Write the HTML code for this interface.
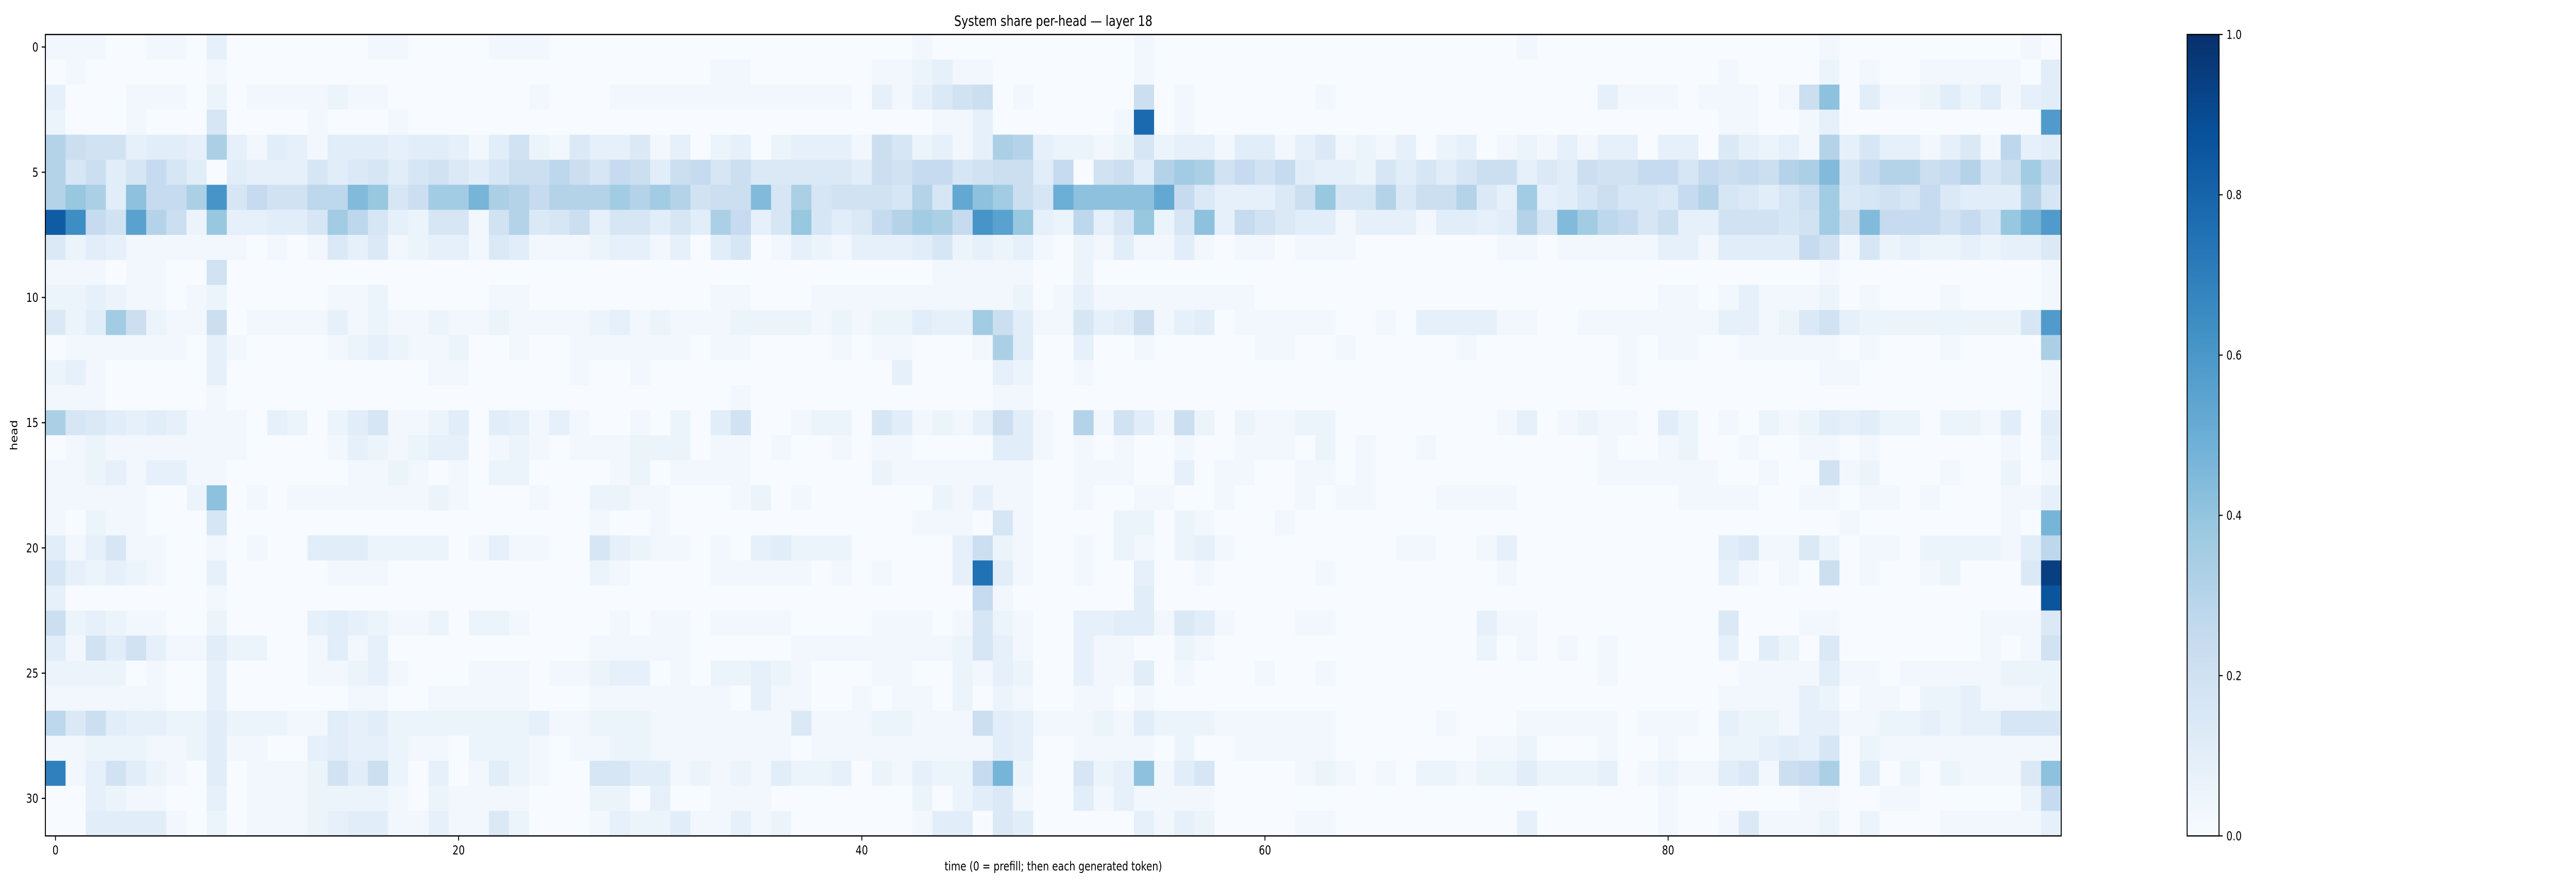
<!DOCTYPE html>
<html><head><meta charset="utf-8"><style>
html,body{margin:0;padding:0;background:#fff;width:100%;height:100%;overflow:hidden;}
#chart{display:block;width:100vw;height:100vh;}
svg text{font-family:"DejaVu Sans","Liberation Sans",sans-serif;fill:#000;}
</style></head><body>
<svg id="chart" xmlns="http://www.w3.org/2000/svg" viewBox="0 0 6300 1728" preserveAspectRatio="none">
<defs>
<linearGradient id="bluesGrad" x1="0" y1="1" x2="0" y2="0">
<stop offset="0" stop-color="#f7fbff"/><stop offset="0.125" stop-color="#deebf7"/><stop offset="0.25" stop-color="#c6dbef"/><stop offset="0.375" stop-color="#9ecae1"/><stop offset="0.5" stop-color="#6baed6"/><stop offset="0.625" stop-color="#4292c6"/><stop offset="0.75" stop-color="#2171b5"/><stop offset="0.875" stop-color="#08519c"/><stop offset="1" stop-color="#08306b"/>
</linearGradient>
</defs>
<text x="2576" y="50" font-size="28" text-anchor="middle">System share per-head — layer 18</text>
<g id="cells"></g>
<rect x="111" y="67" width="4930" height="1556" fill="none" stroke="#000" stroke-width="2.4"/>
<g id="yticks"></g>
<g id="xticks"></g>
<text x="0" y="0" font-size="23.6" text-anchor="middle" transform="translate(42,845) rotate(-90)">head</text>
<text x="2576" y="1690" font-size="23.6" text-anchor="middle">time (0 = prefill; then each generated token)</text>
<rect x="5349" y="67" width="78" height="1556" fill="url(#bluesGrad)" stroke="#000" stroke-width="2.4"/>
<g id="cbticks"></g>
</svg>
<script>
const heads = Array.from({length:32},(_, i)=>i);
const times = Array.from({length:100},(_, i)=>i);
const xTickLabels = [0,20,40,60,80];
const yTickLabels = [0,5,10,15,20,25,30];
const cbTickLabels = [0.0,0.2,0.4,0.6,0.8,1.0];
// each char = share level in base-36 (value = digit/36), 4 blocks of 25 time steps per head
const cellCodes = [
"1110011030000000110000111"+"0000000000000000001000000"+"0000100000000000000000010"+"0000000000000100000000010",
"0100000010000000000000000"+"0000000011000000112311000"+"0000100000000000000000000"+"0000000010000201001111104",
"3000111020111121100000001"+"0001111111111110313578010"+"0000801000000100000000000"+"0031110111018f04112424134",
"2000100060000100010000000"+"0000000000000000000113000"+"0001s01000000000000000000"+"000000001100130000000000l",
"b8773443c3143144434431472"+"1533513023023331862313cb3"+"2212623314413512130230121"+"3133033053231b36331351a34",
"b684696404333645646754688"+"a869848968555554879967884"+"90784bdc79794332646468835"+"48779969898bcg69bb89b68d9",
"bec4f99cm6977aage68ddhcb9"+"bbbdbdb788g6c67776b6jfd86"+"iffffj9533358e66b588b53d3"+"4686659b65468d567695444b6",
"un97kb82e33446da6326617b5"+"68366464c936e6459bdc9mke3"+"2a36e26f397544133314434b6"+"gda9683377767d8g999796ehl",
"5243111111010153512331541"+"1123313046013213334623231"+"0214114101101110000000110"+"1111133144449716232232335",
"1110110070000000000000000"+"0000000000000000000111110"+"0200000000000000000000000"+"0000000000000100000000001",
"2232110120000011200000110"+"0000000011000111111111120"+"1311111111000000000000000"+"0000011013111201000100001",
"524d821180111131211211211"+"112312111222212122433d841"+"1634813401111100103333110"+"011111113312573222222226l",
"0111111031000012321120010"+"0111111011000010110001c40"+"0300100000110010000010000"+"000101100111110100010000c",
"2310000030000000000110000"+"0100100000000000030000320"+"0100000000000000000000000"+"0001000000000110000000001",
"1110000010000000000000000"+"0000000001000000000000110"+"0000000000000000000000000"+"0000000000000000000000001",
"c654343111032024611240431"+"3100102047001220641213841"+"0b17418202112200000000130"+"1211042010212434220221404",
"0121111111000013212330121"+"0111222011010010110000441"+"0101001001110201001000000"+"0010012001001101000000103",
"1123133110000001121010220"+"0001201111000000211111110"+"0111003011001101000000000"+"0011111100100712000100201",
"11111002f0101111111210001"+"0022110001201000000213110"+"0100110010001011000111100"+"0000001111001101101000113",
"1021100060000000000000000"+"0010010000000000001110610"+"0002202100010000000000000"+"000000000000001000000010h",
"4136110010100444222201311"+"0063211010342220000038210"+"0102102310000000011001300"+"000000004511520110222214a",
"6323210030000011100000000"+"002100001111101010003r410"+"0100300100000100000000100"+"000000003101080100120005y",
"3000000010000000000000000"+"0000000000000000000009100"+"0000400000000000000000000"+"000000000000000000000000v",
"8232110020000343211202210"+"0001011011110000111016210"+"0334415410001100000003110"+"0000000050001100000001115",
"4174731142200141300000000"+"0011111000001111111126310"+"0311002100000000000002010"+"1010000030420500000001017",
"2222010030000112310001110"+"1123301022321000110021320"+"0311401000100100000000000"+"0010000001111411011111222",
"1111110030000001100111110"+"0011111110311001011020210"+"0110100000000000000000000"+"0000000011113201102231112",
"a584332242221143422222223"+"1122211111115111221118431"+"1121422211111100000100011"+"1110111032213311223233666",
"1122211241100343321102221"+"0112211111110111111111430"+"0111102001111100000001120"+"0010010022343602111111111",
"p137421040111274820301421"+"0066441212142230213229h20"+"0623f14600001210102212242"+"2230121145189c0402021115f",
"0032110030111222210211110"+"0022030011100000002024510"+"0413111100000000000000000"+"0000010000001100110000029",
"0044441020111234411311520"+"0013224113120000001440540"+"0000313200001100000000030"+"0000010015111202000111113"
];
const values = cellCodes.map(r => Array.from(r.padEnd(100,'0').slice(0,100)).map(c => parseInt(c,36)/36));

const X0=111, X1=5041, Y0=67, Y1=1623;
const colW=(X1-X0)/times.length, rowH=(Y1-Y0)/heads.length;
const xScale=t=>X0+t*colW;
const yScale=h=>Y0+h*rowH;
const CBY0=67, CBY1=1623;
const cbScale=v=>CBY1-v*(CBY1-CBY0);

const stops=["#f7fbff","#deebf7","#c6dbef","#9ecae1","#6baed6","#4292c6","#2171b5","#08519c","#08306b"].map(h=>[1,3,5].map(i=>parseInt(h.substr(i,2),16)));
function blues(v){
  v=Math.max(0,Math.min(1,v));
  const p=v*8, i=Math.min(7,Math.floor(p)), f=p-i;
  const c=stops[i].map((a,k)=>Math.round(a+(stops[i+1][k]-a)*f));
  return `rgb(${c[0]},${c[1]},${c[2]})`;
}
const NS="http://www.w3.org/2000/svg";
function mk(tag,attrs,parent){const e=document.createElementNS(NS,tag);for(const k in attrs)e.setAttribute(k,attrs[k]);parent.appendChild(e);return e;}

const cells=document.getElementById('cells');
heads.forEach((h,hi)=>{
  times.forEach((t,ti)=>{
    const r=mk('rect',{x:xScale(t).toFixed(2),y:yScale(h).toFixed(2),width:(colW+0.6).toFixed(2),height:(rowH+0.6).toFixed(2),fill:blues(values[hi][ti])},cells);
    
    
  });
});

const yt=document.getElementById('yticks');
yTickLabels.forEach(h=>{
  const y=yScale(h)+rowH/2;
  const l=mk('line',{x1:X0-9,x2:X0,y1:y,y2:y,stroke:'#000','stroke-width':2.2},yt);
  
  
  const tx=mk('text',{x:X0-17,y:y+8.5,'font-size':23.6,'text-anchor':'end'},yt);
  tx.textContent=h;
  
  
});
const xt=document.getElementById('xticks');
xTickLabels.forEach(t=>{
  const x=xScale(t)+colW/2;
  const l=mk('line',{x1:x,x2:x,y1:Y1,y2:Y1+9,stroke:'#000','stroke-width':2.2},xt);
  
  
  const tx=mk('text',{x:x,y:Y1+36,'font-size':23.6,'text-anchor':'middle'},xt);
  tx.textContent=t;
  
  
});
const cb=document.getElementById('cbticks');
cbTickLabels.forEach(v=>{
  const y=cbScale(v);
  const l=mk('line',{x1:5427,x2:5436,y1:y,y2:y,stroke:'#000','stroke-width':2.2},cb);
  
  
  const tx=mk('text',{x:5445,y:y+8.5,'font-size':23.6,'text-anchor':'start'},cb);
  tx.textContent=v.toFixed(1);
  
  
});
</script>
</body></html>
